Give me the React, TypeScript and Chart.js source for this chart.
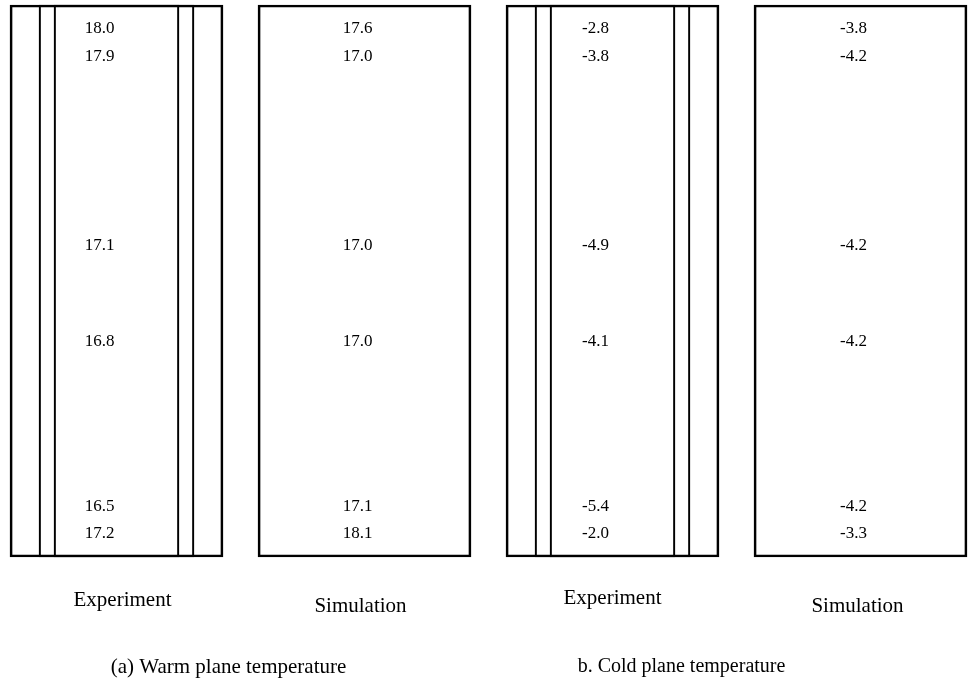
import React, { useEffect, useRef } from "react";
import { Chart, registerables } from "chart.js";

Chart.register(...registerables);

// ---- data ----
const panelNames = ["Experiment", "Simulation", "Experiment", "Simulation"];
const captions = ["(a) Warm plane temperature", "b. Cold plane temperature"];
// sensor heights (% of plane height, from bottom)
const sensorHeights = [95.65, 90.58, 56.5, 38.95, 9.06, 4.17];
const warmExperiment = [18.0, 17.9, 17.1, 16.8, 16.5, 17.2];
const warmSimulation = [17.6, 17.0, 17.0, 17.0, 17.1, 18.1];
const coldExperiment = [-2.8, -3.8, -4.9, -4.1, -5.4, -2.0];
const coldSimulation = [-3.8, -4.2, -4.2, -4.2, -4.2, -3.3];
const panelValues = [warmExperiment, warmSimulation, coldExperiment, coldSimulation];
const experimentPanels = [0, 2];
const planeRange: [number, number] = [0, 100];

const SERIF = '"Liberation Serif", "Times New Roman", serif';

const textPlugin = {
  id: "panelText",
  afterDatasetsDraw(chart: any, _args: any, opts: any) {
    const ctx = chart.ctx;
    const xs = chart.scales.x;
    const ys = chart.scales.y;
    ctx.save();
    ctx.fillStyle = "#000";
    ctx.textBaseline = "middle";
    ctx.textAlign = "center";
    // values
    chart.data.datasets.forEach((ds: any, di: number) => {
      if (!ds.valueLabels) return;
      const meta = chart.getDatasetMeta(di);
      ctx.font = `17px ${SERIF}`;
      meta.data.forEach((pt: any, j: number) => {
        const v = ds.valueLabels[j];
        ctx.fillText(v.toFixed(1), pt.x + ds.labelOffset, pt.y);
      });
    });
    // panel names
    ctx.font = `21px ${SERIF}`;
    panelNames.forEach((name, i) => {
      const x = xs.getPixelForValue(i) + opts.nameOffsets[i];
      const y = ys.getPixelForValue(opts.nameY[i]);
      ctx.fillText(name, x, y);
    });
    // captions
    captions.forEach((c, k) => {
      ctx.font = `${opts.captionSizes[k]}px ${SERIF}`;
      const x = xs.getPixelForValue(2 * k + 0.5) + opts.captionOffsets[k];
      const y = ys.getPixelForValue(opts.captionY);
      ctx.fillText(c, x, y);
    });
    ctx.restore();
  },
};

export default function App() {
  const ref = useRef<HTMLCanvasElement | null>(null);

  useEffect(() => {
    document.body.style.margin = "0";
    const canvas = ref.current;
    if (!canvas) return;

    const panelBox = {
      type: "bar",
      data: panelNames.map((_, i) => ({ x: i, y: planeRange })),
      backgroundColor: "transparent",
      borderColor: "#000",
      borderWidth: 2,
      borderSkipped: false,
      barThickness: 213,
      grouped: false,
      order: 3,
    };
    const layerOuter = {
      type: "bar",
      data: experimentPanels.map((i) => ({ x: i, y: planeRange })),
      backgroundColor: "transparent",
      borderColor: "#000",
      borderWidth: 1.5,
      borderSkipped: false,
      barThickness: 155,
      grouped: false,
      order: 2,
    };
    const layerInner = {
      type: "bar",
      data: experimentPanels.map((i) => ({ x: i, y: planeRange })),
      backgroundColor: "transparent",
      borderColor: "#000",
      borderWidth: 1.5,
      borderSkipped: false,
      barThickness: 125,
      grouped: false,
      order: 1,
    };
    const valueSets = panelValues.map((vals, i) => ({
      type: "scatter",
      data: sensorHeights.map((h) => ({ x: i, y: h })),
      valueLabels: vals,
      labelOffset: i % 2 === 0 ? -17 : -7,
      pointRadius: 0,
      showLine: false,
      order: 0,
    }));

    const chart = new Chart(canvas, {
      type: "bar",
      data: { datasets: [...valueSets, layerInner, layerOuter, panelBox] as any },
      options: {
        animation: false,
        responsive: false,
        maintainAspectRatio: false,
        layout: { padding: 0 },
        scales: {
          x: { type: "linear", min: -0.4698, max: 3.4496, offset: false, display: false },
          y: { type: "linear", min: -25.0, max: 100.906, display: false },
        },
        plugins: {
          legend: { display: false },
          tooltip: { enabled: false },
          panelText: {
            nameOffsets: [6, -4, 0, -3],
            nameY: [-7.8, -8.9, -7.6, -8.9],
            captionOffsets: [-12, -55],
            captionSizes: [21, 20],
            captionY: -19.93,
          },
        } as any,
      },
      plugins: [textPlugin],
    } as any);

    return () => chart.destroy();
  }, []);

  return (
    <div style={{ width: 972, height: 695, background: "#fff" }}>
      <canvas ref={ref} width={972} height={695} style={{ display: "block" }} />
    </div>
  );
}
